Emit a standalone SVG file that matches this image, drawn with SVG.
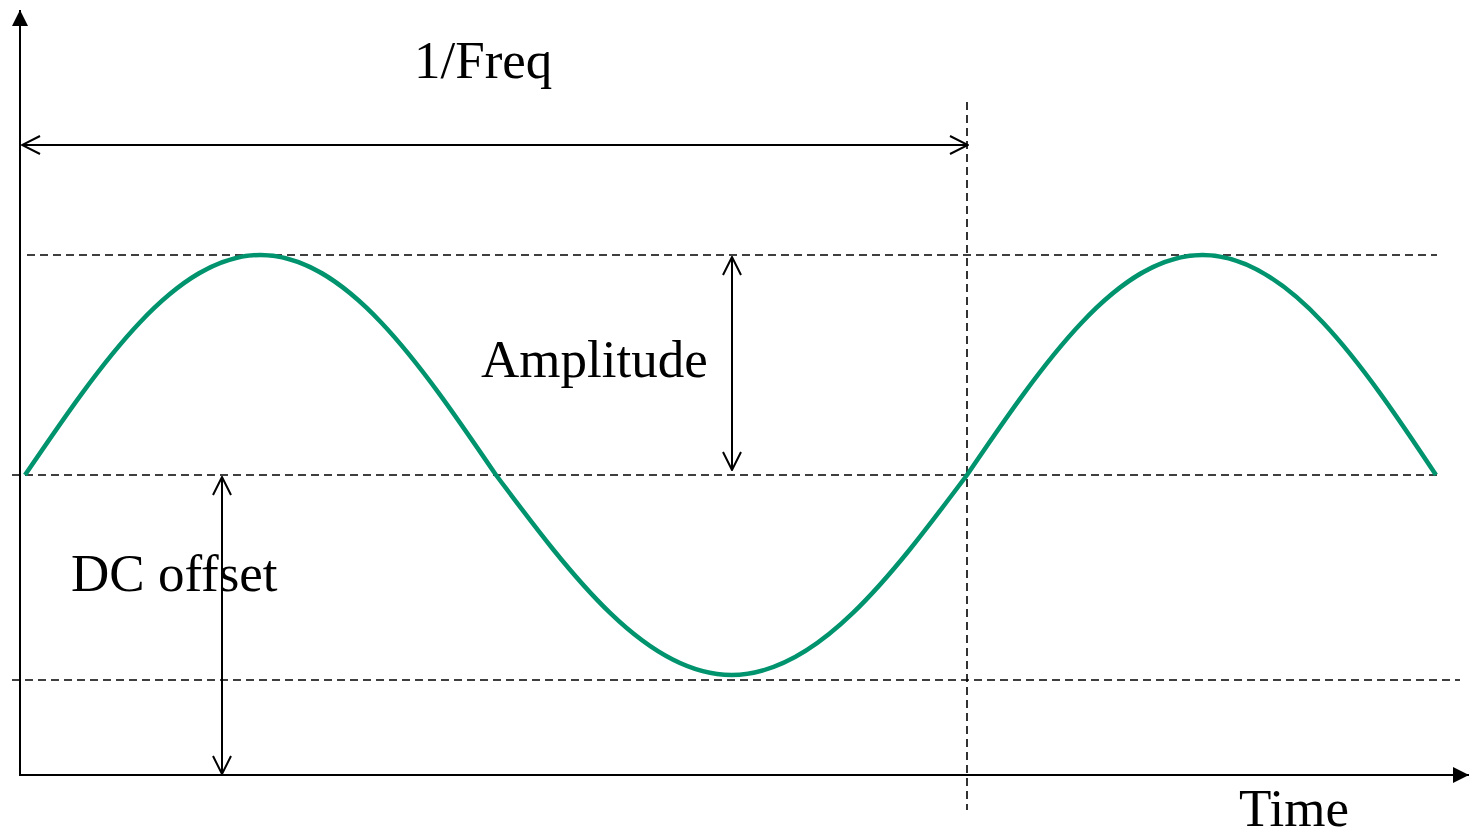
<svg xmlns="http://www.w3.org/2000/svg" width="1470" height="832" viewBox="0 0 1470 832">
<style>
.axis{stroke:#000;stroke-width:2;fill:none}
.dash{stroke:#000;stroke-width:1.6;stroke-dasharray:8 5;fill:none}
.dim{stroke:#000;stroke-width:2;fill:none}
.wave{stroke:#00946E;stroke-width:4.5;fill:none;stroke-linejoin:round}
text{font-family:"Liberation Serif","Times New Roman",serif;font-size:53px;fill:#000}
</style>
<defs>
<marker id="solid" viewBox="0 0 10 10" refX="10" refY="5" markerWidth="8" markerHeight="8" orient="auto" markerUnits="strokeWidth">
<path d="M0,0 L10,5 L0,10 Z" fill="#000"/>
</marker>
<marker id="open" viewBox="0 0 20 20" refX="19" refY="10" markerWidth="10" markerHeight="10" orient="auto-start-reverse" markerUnits="strokeWidth">
<path d="M1,1 L19,10 L1,19" fill="none" stroke="#000" stroke-width="2"/>
</marker>
</defs>
<rect width="1470" height="832" fill="#fff"/>
<g id="guides">
<line class="dash" x1="27" y1="255" x2="1437" y2="255"/>
<line class="dash" x1="12" y1="475" x2="1437" y2="475"/>
<line class="dash" x1="12" y1="680" x2="1460" y2="680"/>
<line class="dash" x1="967" y1="102" x2="967" y2="810"/>
</g>
<g id="axes">
<line class="axis" x1="20" y1="776" x2="20" y2="10" marker-end="url(#solid)"/>
<line class="axis" x1="19" y1="775" x2="1469" y2="775" marker-end="url(#solid)"/>
</g>
<g id="wave">
<path class="wave" d="M25,475 C101.81,362.3 175.27,255 260.5,255 C345.73,255 419.19,362.3 496,475 C572.81,577.46 646.27,675 731.5,675 C816.73,675 890.19,577.46 967,475 C1043.81,362.3 1117.27,255 1202.5,255 C1287.73,255 1361.19,362.3 1436,475"/>
</g>
<g id="connectors">
<line class="dim" x1="22" y1="145" x2="968" y2="145" marker-start="url(#open)" marker-end="url(#open)"/>
<line class="dim" x1="732" y1="257" x2="732" y2="470" marker-start="url(#open)" marker-end="url(#open)"/>
<line class="dim" x1="222" y1="477" x2="222" y2="774" marker-start="url(#open)" marker-end="url(#open)"/>
</g>
<g id="labels">
<text x="414" y="78">1/Freq</text>
<text x="481" y="377">Amplitude</text>
<text x="71" y="591">DC offset</text>
<text x="1239" y="826">Time</text>
</g>
</svg>
